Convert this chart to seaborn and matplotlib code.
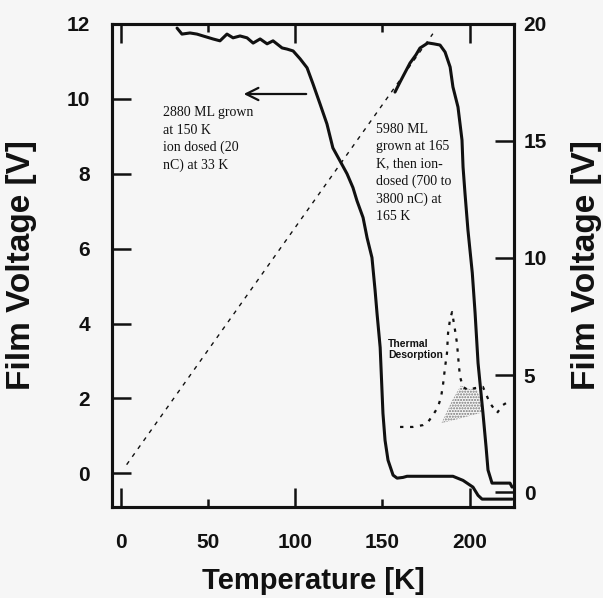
import matplotlib
matplotlib.use("Agg")
import matplotlib.pyplot as plt
from matplotlib.ticker import FixedLocator, FixedFormatter
import seaborn as sns

# --- 2880 ML film, ion dosed at 33 K (left axis) ---
film1_T = [32.4, 35.2, 39.8, 43.8, 47.3, 53.0, 57.0, 61.0, 64.5, 68.5, 72.5, 76.0,
           80.0, 84.0, 87.4, 92.6, 95.4, 98.9, 102.9, 106.9, 110.3, 114.3, 118.3,
           121.7, 125.7, 129.8, 133.2, 135.5, 139.0, 141.3, 144.1, 145.9, 147.0,
           148.8, 150.4, 151.6, 153.3, 156.2, 158.5, 161.9, 164.2, 190.5, 196.3,
           202.0, 204.9, 207.2, 224.4]
film1_V = [11.89, 11.73, 11.76, 11.73, 11.68, 11.60, 11.55, 11.73, 11.63, 11.68, 11.63,
           11.49, 11.60, 11.47, 11.55, 11.36, 11.33, 11.28, 11.07, 10.83, 10.40, 9.87,
           9.33, 8.69, 8.35, 8.00, 7.63, 7.28, 6.83, 6.29, 5.76, 4.88, 4.27, 3.36,
           1.60, 0.88, 0.35, -0.05, -0.13, -0.11, -0.08, -0.08, -0.19, -0.37, -0.59,
           -0.69, -0.69]

# --- 5980 ML film, grown and ion dosed at 165 K (right axis) ---
film2_T = [157.3, 160.2, 165.9, 169.3, 171.6, 176.2, 179.6, 183.1, 186.0, 188.9,
           190.5, 193.4, 195.7, 196.3, 197.4, 199.1, 201.6, 203.2, 204.9, 207.7,
           209.5, 210.6, 212.9, 223.2, 224.4]
film2_V = [17.09, 17.52, 18.33, 18.68, 18.97, 19.19, 19.15, 19.10, 18.80, 18.16,
           17.31, 16.45, 15.04, 13.89, 12.78, 11.20, 9.36, 7.65, 5.51, 3.38,
           1.92, 0.94, 0.38, 0.38, 0.21]

# --- temperature ramp reference line (left axis) ---
ramp_T = [3.5, 179.0]
ramp_V = [0.23, 11.74]

# --- thermal desorption trace (right axis, arbitrary units) ---
tds_T = [160.2, 167.6, 173.4, 176.2, 179.1, 181.9, 183.7, 184.8, 186.0, 187.1,
         187.7, 188.8, 190.0, 191.7, 192.8, 194.0, 194.6, 196.3, 199.1, 203.1,
         207.7, 211.7, 215.8, 219.2, 222.1]
tds_V = [2.78, 2.78, 2.86, 2.99, 3.29, 3.63, 4.06, 4.57, 5.34, 5.94,
         6.79, 7.35, 7.69, 6.92, 6.37, 5.34, 4.91, 4.49, 4.36, 4.44,
         4.49, 3.80, 3.38, 3.72, 3.85]

# shaded desorption area
shade_T = [184.0, 190.0, 195.0, 200.0, 204.0, 208.0]
shade_low = [2.95, 3.05, 3.15, 3.25, 3.33, 3.42]
shade_high = [2.95, 3.90, 4.55, 4.40, 4.42, 3.60]

x_ticks = [0, 50, 100, 150, 200]
left_ticks = [0, 2, 4, 6, 8, 10, 12]
right_ticks = [0, 5, 10, 15, 20]

sns.set_theme(style="ticks")
plt.rcParams["font.family"] = ["Liberation Sans", "DejaVu Sans"]

bg = "#f6f6f6"
fig = plt.figure(figsize=(6.03, 5.98), dpi=100, facecolor=bg)
ax = fig.add_axes([0.1857, 0.1522, 0.6667, 0.8077], facecolor=bg)
ax2 = ax.twinx()
ax2.patch.set_visible(False)

ink = "#111111"
sns.lineplot(x=film1_T, y=film1_V, ax=ax, color=ink, lw=2.2, sort=False, estimator=None)
sns.lineplot(x=ramp_T, y=ramp_V, ax=ax, color=ink, lw=1.0, sort=False, estimator=None,
             linestyle=(0, (3, 4)))
sns.lineplot(x=film2_T, y=film2_V, ax=ax2, color=ink, lw=2.2, sort=False, estimator=None)
sns.lineplot(x=tds_T, y=tds_V, ax=ax2, color=ink, lw=1.6, sort=False, estimator=None,
             linestyle=(0, (1.5, 3)))
ax2.fill_between(shade_T, shade_low, shade_high, facecolor="none", hatch="......",
                 edgecolor="#777777", linewidth=0)

ax.set_xlim(-4.9, 225.5)
ax.set_ylim(-0.9, 12.0)
ax2.set_ylim(-0.64, 20.0)

ax.xaxis.set_major_locator(FixedLocator([0, 100, 200]))
ax.xaxis.set_minor_locator(FixedLocator([50, 150]))
ax.xaxis.set_major_formatter(FixedFormatter(["0", "100", "200"]))
ax.xaxis.set_minor_formatter(FixedFormatter(["50", "150"]))
ax.set_yticks(left_ticks)
ax.set_yticklabels([str(v) for v in left_ticks])
ax2.set_yticks(right_ticks)
ax2.set_yticklabels([str(v) for v in right_ticks])
for lab in ax.get_xticklabels(which="both") + ax.get_yticklabels() + ax2.get_yticklabels():
    lab.set_fontsize(15)
    lab.set_fontweight("bold")
    lab.set_color(ink)

ax.tick_params(axis="x", which="major", direction="in", top=True, bottom=True,
               length=14, width=1.8, pad=19, colors=ink)
ax.tick_params(axis="x", which="minor", direction="in", top=True, bottom=True,
               length=6, width=1.8, pad=19, colors=ink)
ax.tick_params(axis="y", which="major", direction="in", left=True, right=False,
               length=14, width=1.8, pad=16, colors=ink)
ax2.tick_params(axis="y", which="major", direction="in", right=True, left=False,
                length=14, width=1.8, pad=7, colors=ink)

for a in (ax, ax2):
    for s in a.spines.values():
        s.set_linewidth(2.2)
        s.set_color(ink)

ax.set_xlabel("Temperature [K]", fontsize=21, fontweight="bold", color=ink)
ax.xaxis.set_label_coords(0.5, -0.124)
ax.set_ylabel("Film Voltage [V]", fontsize=24, fontweight="bold", color=ink)
ax.yaxis.set_label_coords(-0.187, 0.5)
ax2.set_ylabel("Film Voltage [V]", fontsize=24, fontweight="bold", color=ink,
               rotation=90)
ax2.yaxis.set_label_coords(1.142, 0.5)

ax.annotate("", xy=(69, 10.13), xytext=(108, 10.13),
            arrowprops=dict(arrowstyle="->", lw=1.6, color=ink, mutation_scale=22))

serif = ["Liberation Serif", "DejaVu Serif"]
ax.text(24.5, 9.8, "2880 ML grown\nat 150 K\nion dosed (20\nnC) at 33 K",
        family=serif, fontsize=10, color=ink, va="top", ha="left", linespacing=1.42)
ax.text(146.5, 9.36, "5980 ML\ngrown at 165\nK, then ion-\ndosed (700 to\n3800 nC) at\n165 K",
        family=serif, fontsize=10, color=ink, va="top", ha="left", linespacing=1.42)
ax.text(153.5, 3.58, "Thermal\nDesorption", fontsize=7.5, fontweight="bold",
        color=ink, va="top", ha="left", linespacing=1.15)

fig.savefig("out.png", dpi=100, facecolor=bg)
